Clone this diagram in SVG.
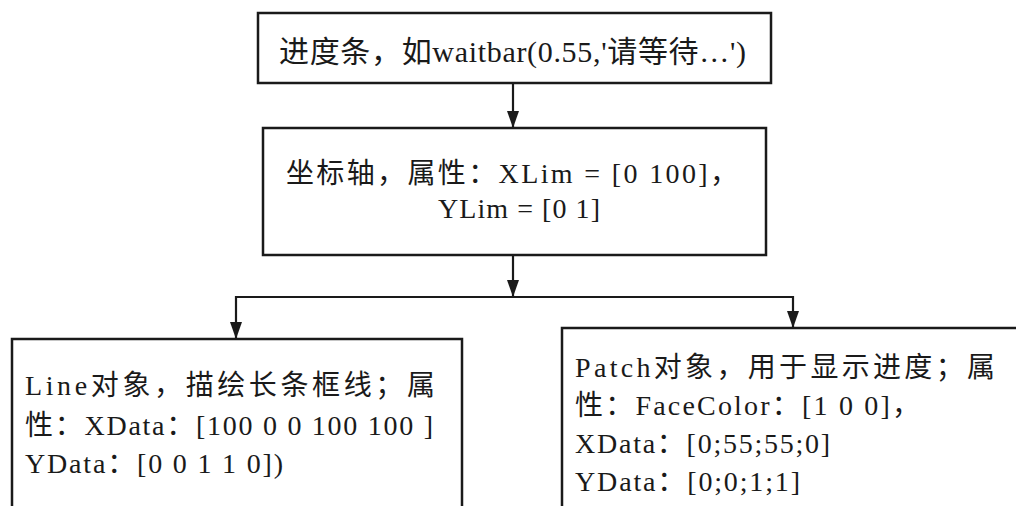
<svg xmlns="http://www.w3.org/2000/svg" width="1016" height="506" viewBox="0 0 1016 506">
<defs>
<style>
.box{fill:#fff;stroke:#1a1a1a;stroke-width:2.5}
.t{font-family:"Liberation Serif","Noto Sans CJK SC",serif;fill:#1a1a1a}
.c{fill:none;stroke:#1a1a1a;stroke-width:2.2}
</style>
<marker id="ah" markerUnits="userSpaceOnUse" markerWidth="18" markerHeight="12" refX="17" refY="6" orient="auto">
<path d="M0,0 L17,6 L0,12 z" fill="#1a1a1a"/>
</marker>
</defs>
<rect width="1016" height="506" fill="#fff"/>
<g id="connectors">
<line class="c" x1="513" y1="83" x2="513" y2="128" marker-end="url(#ah)"/>
<line class="c" x1="513" y1="255" x2="513" y2="297" marker-end="url(#ah)"/>
<line class="c" x1="236" y1="297" x2="793" y2="297"/>
<line class="c" x1="236" y1="296" x2="236" y2="339" marker-end="url(#ah)"/>
<line class="c" x1="793" y1="296" x2="793" y2="328" marker-end="url(#ah)"/>
</g>
<g id="waitbar">
<rect class="box" x="258" y="13" width="513" height="70"/>
<text class="t" x="279" y="62" font-size="30" textLength="467" lengthAdjust="spacing">进度条，如waitbar(0.55,'请等待…')</text>
</g>
<g id="axes">
<rect class="box" x="263" y="128" width="503" height="127"/>
<text class="t" x="286" y="183" font-size="28" textLength="452" lengthAdjust="spacing">坐标轴，属性：XLim = [0 100]，</text>
<text class="t" x="438" y="218" font-size="28" textLength="162" lengthAdjust="spacing">YLim = [0 1]</text>
</g>
<g id="line-object">
<rect class="box" x="12" y="339" width="450" height="180"/>
<text class="t" x="25" y="395" font-size="28" textLength="410" lengthAdjust="spacing">Line对象，描绘长条框线；属</text>
<text class="t" x="25" y="435" font-size="28" textLength="408" lengthAdjust="spacing">性：XData：[100 0 0 100 100 ]</text>
<text class="t" x="25" y="473" font-size="28" textLength="258" lengthAdjust="spacing">YData：[0 0 1 1 0])</text>
</g>
<g id="patch-object">
<rect class="box" x="562" y="328" width="470" height="190"/>
<text class="t" x="575" y="377" font-size="28" textLength="420" lengthAdjust="spacing">Patch对象，用于显示进度；属</text>
<text class="t" x="575" y="415" font-size="28" textLength="345" lengthAdjust="spacing">性：FaceColor：[1 0 0]，</text>
<text class="t" x="575" y="453" font-size="28" textLength="255" lengthAdjust="spacing">XData：[0;55;55;0]</text>
<text class="t" x="575" y="491" font-size="28" textLength="225" lengthAdjust="spacing">YData：[0;0;1;1]</text>
</g>
</svg>
